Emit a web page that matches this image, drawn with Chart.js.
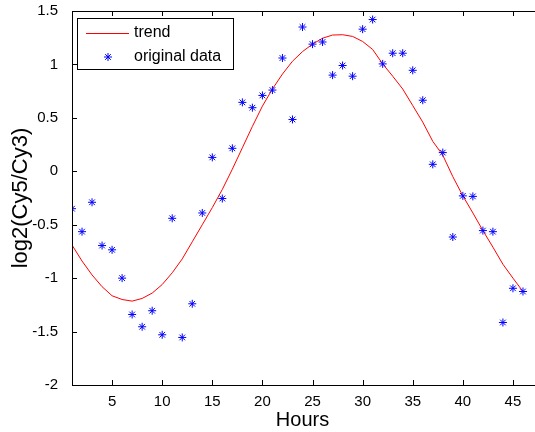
<!DOCTYPE html>
<html>
<head>
<meta charset="utf-8">
<script src="https://cdn.jsdelivr.net/npm/chart.js@4"></script>
<style>
  html, body { margin: 0; padding: 0; background: #ffffff; }
  #wrap { width: 535px; height: 432px; }
</style>
</head>
<body>
<div id="wrap"><canvas id="c" width="535" height="432"></canvas></div>
<script>
// ---- data ----
const hours = [1,2,3,4,5,6,7,8,9,10,11,12,13,14,15,16,17,18,19,20,21,22,23,24,25,26,27,28,29,30,31,32,33,34,35,36,37,38,39,40,41,42,43,44,45,46];
const originalData = [-0.35,-0.565,-0.29,-0.695,-0.735,-1.0,-1.34,-1.455,-1.305,-1.53,-0.44,-1.555,-1.24,-0.39,0.13,-0.255,0.215,0.645,0.595,0.71,0.76,1.06,0.485,1.35,1.19,1.21,0.90,0.99,0.89,1.33,1.42,1.005,1.105,1.105,0.945,0.665,0.065,0.175,-0.615,-0.23,-0.235,-0.555,-0.565,-1.415,-1.095,-1.125];
const trendData = [-0.69,-0.84,-0.97,-1.08,-1.165,-1.20,-1.215,-1.19,-1.14,-1.06,-0.95,-0.82,-0.66,-0.50,-0.34,-0.17,0.02,0.22,0.42,0.61,0.77,0.91,1.03,1.12,1.19,1.245,1.275,1.278,1.262,1.215,1.14,1.005,0.89,0.77,0.615,0.46,0.28,0.15,-0.05,-0.23,-0.39,-0.555,-0.71,-0.87,-1.0,-1.125];
const xTicks = [5,10,15,20,25,30,35,40,45];
const yTicks = [-2,-1.5,-1,-0.5,0,0.5,1,1.5];
const seriesNames = ['trend', 'original data'];
const xTitle = 'Hours';
const yTitle = 'log2(Cy5/Cy3)';

const FONT = 'Liberation Sans, Arial, Helvetica, sans-serif';
Chart.defaults.font.family = FONT;
Chart.defaults.color = '#000';

const trendPts = hours.map((h, i) => ({x: h, y: trendData[i]}));
const dataPts = hours.map((h, i) => ({x: h, y: originalData[i]}));

function zeroPad(s) { s.paddingLeft = 0; s.paddingRight = 0; s.paddingTop = 0; s.paddingBottom = 0; }

const framePlugin = {
  id: 'frame',
  afterDraw(chart) {
    const ctx = chart.ctx;
    const a = chart.chartArea;
    const xs = chart.scales.x, ys = chart.scales.y;
    ctx.save();
    ctx.strokeStyle = '#000';
    ctx.lineWidth = 1;
    ctx.beginPath();
    ctx.moveTo(a.left + 0.5, a.top + 0.5);
    ctx.lineTo(a.left + 0.5, a.bottom + 0.5);
    ctx.lineTo(chart.width, a.bottom + 0.5);
    ctx.moveTo(a.left + 0.5, a.top + 0.5);
    ctx.lineTo(chart.width, a.top + 0.5);
    const tl = 5;
    xTicks.forEach(v => {
      const px = Math.round(xs.getPixelForValue(v)) + 0.5;
      ctx.moveTo(px, a.bottom);
      ctx.lineTo(px, a.bottom - tl);
      ctx.moveTo(px, a.top);
      ctx.lineTo(px, a.top + tl);
    });
    yTicks.forEach(v => {
      const py = Math.round(ys.getPixelForValue(v)) + 0.5;
      ctx.moveTo(a.left, py);
      ctx.lineTo(a.left + tl, py);
    });
    ctx.stroke();

    // legend box
    const lx = 77.5, ly = 18.5, lw = 156, lh = 51;
    ctx.fillStyle = '#fff';
    ctx.fillRect(lx, ly, lw, lh);
    ctx.strokeRect(lx, ly, lw, lh);
    ctx.beginPath();
    ctx.strokeStyle = '#ff0000';
    ctx.moveTo(86, 33.5);
    ctx.lineTo(129, 33.5);
    ctx.stroke();
    ctx.strokeStyle = '#0000ff';
    ctx.fillStyle = '#0000ff';
    Chart.helpers.drawPoint(ctx, {pointStyle: 'star', radius: 4, rotation: 0, borderWidth: 1}, 108, 57);
    ctx.fillStyle = '#000';
    ctx.font = '16px ' + FONT;
    ctx.textBaseline = 'middle';
    ctx.textAlign = 'left';
    ctx.fillText(seriesNames[0], 134, 33);
    ctx.fillText(seriesNames[1], 134, 57);
    ctx.restore();
  }
};

new Chart(document.getElementById('c'), {
  type: 'line',
  data: {
    datasets: [
      {
        label: seriesNames[0],
        data: trendPts,
        borderColor: '#ff0000',
        backgroundColor: '#ff0000',
        borderWidth: 1,
        pointRadius: 0,
        tension: 0,
        fill: false,
        order: 1
      },
      {
        label: seriesNames[1],
        data: dataPts,
        showLine: false,
        pointStyle: 'star',
        pointRadius: 4,
        pointBorderWidth: 1,
        borderColor: '#0000ff',
        backgroundColor: '#0000ff',
        order: 0
      }
    ]
  },
  options: {
    responsive: false,
    animation: false,
    devicePixelRatio: 1,
    layout: { autoPadding: false, padding: { left: 0, right: 2, top: 11, bottom: 0 } },
    plugins: { legend: { display: false }, tooltip: { enabled: false } },
    scales: {
      x: {
        type: 'linear',
        min: 1,
        max: 47,
        grid: { display: false },
        border: { display: false },
        afterBuildTicks: s => { s.ticks = xTicks.map(v => ({value: v})); },
        afterFit: s => { s.height = 47; zeroPad(s); },
        ticks: { font: { size: 15 }, color: '#000', padding: 0, maxRotation: 0, autoSkip: false },
        title: { display: true, text: xTitle, font: { size: 20 }, color: '#000', padding: { top: 0, bottom: 0 } }
      },
      y: {
        type: 'linear',
        min: -2,
        max: 1.5,
        grid: { display: false },
        border: { display: false },
        afterBuildTicks: s => { s.ticks = yTicks.map(v => ({value: v})); },
        afterFit: s => { s.width = 72; zeroPad(s); },
        ticks: { font: { size: 15 }, color: '#000', padding: 6, callback: v => String(v) },
        title: { display: true, text: yTitle, font: { size: 22 }, color: '#000', padding: { top: 8, bottom: 0 } }
      }
    }
  },
  plugins: [framePlugin]
});
</script>
</body>
</html>
